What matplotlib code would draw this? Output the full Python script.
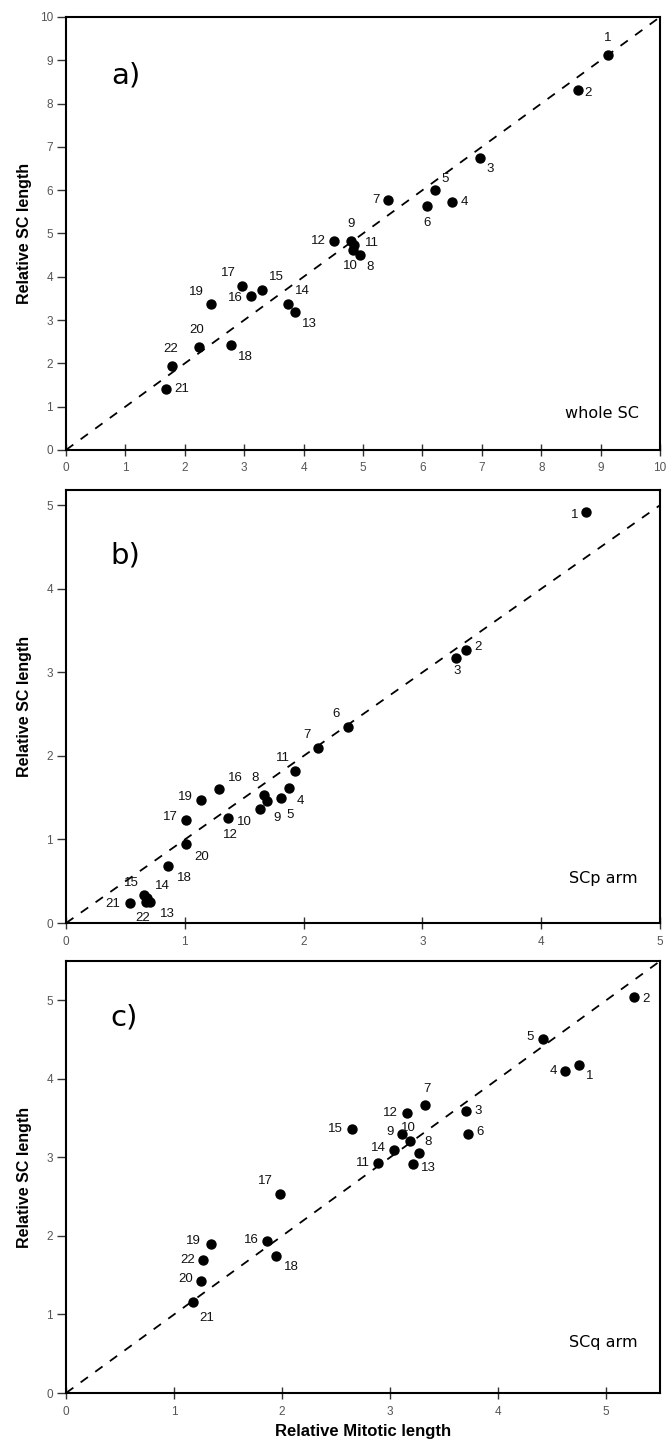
import matplotlib
matplotlib.use("Agg")
import matplotlib.pyplot as plt

chrom = [str(i) for i in range(1, 23)]

# Panel a: whole SC
a_mit = [9.12, 8.61, 6.96, 6.50, 6.21, 6.07, 5.42, 4.94, 4.79, 4.83, 4.84, 4.51,
         3.86, 3.74, 3.30, 3.12, 2.96, 2.77, 2.44, 2.23, 1.69, 1.78]
a_sc = [9.12, 8.31, 6.75, 5.73, 6.00, 5.64, 5.77, 4.50, 4.83, 4.62, 4.74, 4.83,
        3.18, 3.38, 3.69, 3.55, 3.79, 2.42, 3.38, 2.38, 1.40, 1.94]

# Panel b: SCp arm
b_mit = [4.38, 3.37, 3.28, 1.88, 1.81, 2.37, 2.12, 1.67, 1.69, 1.63, 1.93, 1.36,
         0.71, 0.68, 0.66, 1.29, 1.01, 0.86, 1.14, 1.01, 0.54, 0.67]
b_sc = [4.92, 3.27, 3.17, 1.62, 1.50, 2.35, 2.09, 1.53, 1.46, 1.37, 1.82, 1.26,
        0.25, 0.30, 0.33, 1.60, 1.23, 0.68, 1.47, 0.95, 0.24, 0.25]

# Panel c: SCq arm
c_mit = [4.75, 5.26, 3.70, 4.62, 4.42, 3.72, 3.32, 3.27, 3.11, 3.18, 2.89, 3.16,
         3.21, 3.04, 2.65, 1.86, 1.98, 1.94, 1.34, 1.25, 1.18, 1.27]
c_sc = [4.18, 5.04, 3.59, 4.10, 4.51, 3.30, 3.67, 3.05, 3.30, 3.21, 2.93, 3.56,
        2.92, 3.09, 3.36, 1.93, 2.53, 1.75, 1.90, 1.43, 1.16, 1.70]

# label offsets (points) per chromosome, per panel
a_off = {1: (0, 8), 2: (5, -2), 3: (5, -4), 4: (6, 0), 5: (5, 4), 6: (0, -8), 7: (-6, 0),
         8: (5, -4), 9: (0, 8), 10: (-2, -7), 11: (8, 1), 12: (-6, 0), 13: (5, -4),
         14: (5, 5), 15: (5, 5), 16: (-6, -1), 17: (-4, 5), 18: (5, -4), 19: (-5, 4),
         20: (-1, 8), 21: (6, 0), 22: (-1, 8)}
b_off = {1: (-6, -2), 2: (6, 2), 3: (1, -5), 4: (5, -5), 5: (4, -8), 6: (-6, 5),
         7: (-5, 5), 8: (-4, 8), 9: (5, -8), 10: (-6, -5), 11: (-4, 5), 12: (2, -8),
         13: (7, -4), 14: (6, 4), 15: (-4, 5), 16: (6, 4), 17: (-6, 2), 18: (6, -4),
         19: (-6, 2), 20: (6, -5), 21: (-7, -1), 22: (-2, -7)}
c_off = {1: (5, -4), 2: (6, -1), 3: (6, 0), 4: (-6, 0), 5: (-7, 1), 6: (6, 1),
         7: (2, 7), 8: (4, 4), 9: (-6, 1), 10: (-1, 5), 11: (-6, 0), 12: (-7, 0),
         13: (6, -3), 14: (-6, 2), 15: (-7, 0), 16: (-6, 1), 17: (-5, 5), 18: (6, -4),
         19: (-7, 2), 20: (-6, 1), 21: (4, -7), 22: (-6, 0)}

fig = plt.figure(figsize=(6.69, 14.5), dpi=100)
plt.rcParams['font.family'] = ['Liberation Sans', 'DejaVu Sans']

panels = [
    dict(x=a_mit, y=a_sc, off=a_off, lim=(10, 10), ticks=range(0, 11), letter="a)",
         tag="whole SC", pos=[0.0987, 0.6897, 0.888, 0.2986], xl=False,
         lpos=(0.076, 0.864), tpos=(0.965, 0.085)),
    dict(x=b_mit, y=b_sc, off=b_off, lim=(5, 5.18), ticks=range(0, 6), letter="b)",
         tag="SCp arm", pos=[0.0987, 0.3634, 0.888, 0.2986], xl=False,
         lpos=(0.074, 0.85), tpos=(0.963, 0.103)),
    dict(x=c_mit, y=c_sc, off=c_off, lim=(5.5, 5.5), ticks=range(0, 6), letter="c)",
         tag="SCq arm", pos=[0.0987, 0.0393, 0.888, 0.2979], xl=True,
         lpos=(0.074, 0.869), tpos=(0.963, 0.117)),
]

for p in panels:
    ax = fig.add_axes(p["pos"])
    xmax, ymax = p["lim"]
    d = min(xmax, ymax)
    ax.plot([0, d], [0, d], ls=(0, (5, 5)), color="black", lw=1.3, zorder=1)
    ax.scatter(p["x"], p["y"], s=42, color="black", zorder=3)
    for i, (xx, yy) in enumerate(zip(p["x"], p["y"])):
        dx, dy = p["off"][i + 1]
        ha = "left" if dx > 2 else ("right" if dx < -2 else "center")
        va = "bottom" if dy > 3 else ("top" if dy < -3 else "center")
        ax.annotate(chrom[i], (xx, yy), xytext=(dx, dy), textcoords="offset points",
                    ha=ha, va=va, fontsize=9.5, color="#111111")
    ax.set_xlim(0, xmax)
    ax.set_ylim(0, ymax)
    ax.set_xticks(list(p["ticks"]))
    ax.set_yticks(list(p["ticks"]))
    ax.tick_params(axis="y", direction="out", length=6.5, width=1, pad=3,
                   labelsize=8.5, colors="#333333", labelcolor="#555555")
    ax.tick_params(axis="x", direction="inout", length=8, width=1, pad=5,
                   labelsize=8.5, colors="#333333", labelcolor="#555555")
    for s in ax.spines.values():
        s.set_linewidth(1.5)
    ax.set_ylabel("Relative SC length", fontsize=11.5, fontweight="bold")
    ax.yaxis.set_label_coords(-0.057, 0.5)
    if p["xl"]:
        ax.set_xlabel("Relative Mitotic length", fontsize=12, fontweight="bold",
                      labelpad=5)
    ax.text(p["lpos"][0], p["lpos"][1], p["letter"], transform=ax.transAxes,
            fontsize=21, ha="left", va="center", family="DejaVu Sans")
    ax.text(p["tpos"][0], p["tpos"][1], p["tag"], transform=ax.transAxes,
            fontsize=11.5, ha="right", va="center", family="DejaVu Sans")

fig.savefig("out.png", dpi=100)
